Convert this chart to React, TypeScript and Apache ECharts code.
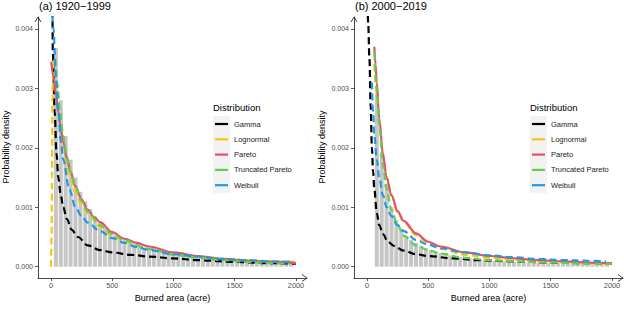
import React, { useEffect, useRef } from "react";
import * as echarts from "echarts";

// ---- data ----
const panelTitles = ["(a) 1920−1999", "(b) 2000−2019"];
const distNames = ["Gamma", "Lognormal", "Pareto", "Truncated Pareto", "Weibull"];
const distColors = ["#000000", "#F5C710", "#DF536B", "#61D04F", "#2297E6"];
const distDashed = [true, true, false, true, true];
const xTicks = [0, 500, 1000, 1500, 2000];
const yTicks = [0, 0.001, 0.002, 0.003, 0.004];

// histogram bin centres (acre) and densities
const leftBins = [40, 80, 120, 160, 200, 240, 280, 320, 360, 400, 440, 480, 520, 560, 600, 640, 680, 720, 760, 800, 840, 880, 920, 960, 1000, 1040, 1080, 1120, 1160, 1200, 1240, 1280, 1320, 1360, 1400, 1440, 1480, 1520, 1560, 1600, 1640, 1680, 1720, 1760, 1800, 1840, 1880, 1920, 1960];
const leftDensity = [0.00368, 0.0028, 0.0022, 0.0018, 0.0015, 0.00126, 0.0011, 0.00097, 0.00084, 0.00075, 0.00066, 0.00059, 0.00054, 0.00048, 0.00045, 0.00041, 0.00038, 0.00035, 0.00032, 0.0003, 0.00031, 0.00027, 0.00025, 0.00023, 0.00022, 0.0002, 0.00019, 0.00018, 0.00017, 0.00016, 0.00015, 0.00015, 0.00014, 0.00013, 0.00013, 0.00012, 0.00012, 0.00011, 0.00011, 0.0001, 0.0001, 0.0001, 0.00009, 0.00009, 0.00009, 0.00008, 0.00008, 0.00008, 0.00007];
const rightBins = [80, 120, 160, 200, 240, 280, 320, 360, 400, 440, 480, 520, 560, 600, 640, 680, 720, 760, 800, 840, 880, 920, 960, 1000, 1040, 1080, 1120, 1160, 1200, 1240, 1280, 1320, 1360, 1400, 1440, 1480, 1520, 1560, 1600, 1640, 1680, 1720, 1760, 1800, 1840, 1880, 1920, 1960];
const rightDensity = [0.0029, 0.0019, 0.0014, 0.001, 0.00078, 0.00062, 0.00052, 0.00045, 0.0004, 0.00035, 0.00031, 0.00028, 0.00025, 0.00023, 0.00021, 0.00019, 0.00017, 0.00016, 0.00015, 0.00014, 0.00013, 0.00012, 0.00012, 0.00011, 0.0001, 0.0001, 0.00009, 0.00009, 0.00008, 0.00008, 0.00008, 0.00007, 0.00007, 0.00007, 0.00006, 0.00006, 0.00006, 0.00006, 0.00005, 0.00005, 0.00005, 0.00005, 0.00005, 0.00004, 0.00004, 0.00004, 0.00004, 0.00004];

// fitted densities [acre, density]
const leftGamma = [[12, 0.0045], [15, 0.0036], [30, 0.0026], [45, 0.0019], [60, 0.0015], [80, 0.0012], [100, 0.001], [130, 0.0008], [170, 0.00062], [220, 0.0005], [300, 0.00036], [400, 0.00028], [500, 0.00024], [650, 0.0002], [800, 0.00017], [1000, 0.00014], [1200, 0.00011], [1500, 0.00008], [1800, 0.00006], [2000, 0.00005]];
const leftLognormal = [[0, 0], [5, 0.0005], [8, 0.0015], [12, 0.0028], [18, 0.0034], [25, 0.0035], [35, 0.0033], [50, 0.0029], [70, 0.0025], [100, 0.002], [150, 0.00155], [200, 0.00125], [250, 0.00105], [300, 0.0009], [400, 0.00067], [500, 0.00052], [600, 0.00042], [800, 0.0003], [1000, 0.00022], [1200, 0.00017], [1500, 0.00012], [1800, 0.00009], [2000, 0.00008]];
const leftPareto = [[2, 0.00345], [20, 0.0032], [40, 0.0029], [60, 0.0026], [80, 0.0023], [100, 0.0021], [130, 0.00182], [160, 0.0016], [200, 0.00135], [250, 0.00113], [300, 0.00096], [350, 0.00084], [400, 0.00075], [500, 0.00058], [600, 0.00047], [700, 0.0004], [800, 0.00034], [1000, 0.00024], [1200, 0.00018], [1400, 0.00013], [1600, 0.0001], [1800, 0.00008], [2000, 0.00006]];
const leftTruncPareto = [[35, 0.0035], [50, 0.0031], [75, 0.0026], [100, 0.0022], [130, 0.00185], [160, 0.0016], [200, 0.00133], [250, 0.0011], [300, 0.00093], [400, 0.0007], [500, 0.00055], [600, 0.00044], [800, 0.0003], [1000, 0.0002], [1200, 0.00015], [1400, 0.00011], [1600, 0.00008], [1800, 0.00006], [1950, 0.00005]];
const leftWeibull = [[3, 0.0046], [20, 0.004], [40, 0.0032], [60, 0.0026], [80, 0.0021], [100, 0.0018], [150, 0.0013], [200, 0.001], [250, 0.00085], [300, 0.00074], [400, 0.0006], [500, 0.00048], [600, 0.0004], [700, 0.00033], [800, 0.00028], [1000, 0.00021], [1200, 0.00017], [1400, 0.00013], [1600, 0.00011], [1800, 0.00009], [1950, 0.00008]];

const rightGamma = [[2, 0.0046], [10, 0.0041], [20, 0.0035], [30, 0.0027], [40, 0.002], [50, 0.0016], [60, 0.0013], [80, 0.0009], [100, 0.0007], [130, 0.00055], [170, 0.00042], [220, 0.00035], [300, 0.00027], [400, 0.00021], [500, 0.00018], [700, 0.00014], [900, 0.00011], [1200, 0.00009], [1500, 0.00007], [1800, 0.00006], [2000, 0.00005]];
const rightLognormal = [[60, 0.0034], [80, 0.0029], [100, 0.0024], [130, 0.0019], [160, 0.0015], [200, 0.0012], [250, 0.00092], [300, 0.00075], [400, 0.00053], [500, 0.0004], [600, 0.0003], [800, 0.0002], [1000, 0.00015], [1200, 0.00011], [1500, 0.00008], [1800, 0.00006], [2000, 0.00005]];
const rightPareto = [[60, 0.0037], [70, 0.0034], [80, 0.0031], [100, 0.0025], [130, 0.0019], [160, 0.0015], [200, 0.0012], [250, 0.00093], [300, 0.00077], [400, 0.00056], [500, 0.00042], [600, 0.00034], [800, 0.00024], [1000, 0.00018], [1200, 0.00014], [1400, 0.00011], [1600, 0.00009], [1800, 0.00007], [2000, 0.00006]];
const rightTruncPareto = [[60, 0.0036], [80, 0.003], [100, 0.0024], [130, 0.0017], [160, 0.0013], [200, 0.00095], [250, 0.0007], [300, 0.00052], [400, 0.00036], [500, 0.00028], [600, 0.00022], [800, 0.00015], [1000, 0.00011], [1200, 0.00009], [1500, 0.00007], [1800, 0.00005], [2000, 0.00005]];
const rightWeibull = [[40, 0.0031], [50, 0.0026], [60, 0.0022], [80, 0.0018], [100, 0.0015], [130, 0.0012], [160, 0.001], [200, 0.00085], [250, 0.0007], [300, 0.0006], [400, 0.00045], [500, 0.00037], [600, 0.00031], [800, 0.00024], [1000, 0.00019], [1200, 0.00016], [1400, 0.00013], [1600, 0.00011], [1800, 0.0001], [1950, 0.00009]];

const leftCurves = [leftGamma, leftLognormal, leftPareto, leftTruncPareto, leftWeibull];
const rightCurves = [rightGamma, rightLognormal, rightPareto, rightTruncPareto, rightWeibull];

const FONT = "'Liberation Sans', Arial, Helvetica, sans-serif";

export default function App() {
  const ref = useRef<HTMLDivElement>(null);
  useEffect(() => {
    if (!ref.current) return;
    const chart = echarts.init(ref.current, null, { renderer: "svg" });
    const gridLefts = [38, 354];
    const gridTop = 17;
    const gridW = 269;
    const gridH = 261;

    const xAxes = gridLefts.map((_, i) => ({
      type: "value",
      gridIndex: i,
      min: -106,
      max: 2090,
      splitLine: { show: false },
      axisLine: { show: true, onZero: false, lineStyle: { color: "#333", width: 0.9 } },
      axisTick: { show: true, length: 3, customValues: xTicks, lineStyle: { color: "#333", width: 0.8 } },
      axisLabel: {
        customValues: xTicks,
        margin: 4,
        fontSize: 7.3,
        color: "#4D4D4D",
        fontFamily: FONT,
        formatter: (v: number) => String(v),
      },
    }));
    const yAxes = gridLefts.map((_, i) => ({
      type: "value",
      gridIndex: i,
      min: -0.00019,
      max: 0.0042,
      splitLine: { show: false },
      axisLine: { show: true, onZero: false, lineStyle: { color: "#333", width: 0.9 } },
      axisTick: { show: true, length: 3, customValues: yTicks, lineStyle: { color: "#333", width: 0.8 } },
      axisLabel: {
        customValues: yTicks,
        margin: 5,
        fontSize: 7,
        color: "#4D4D4D",
        fontFamily: FONT,
        formatter: (v: number) => v.toFixed(3),
      },
    }));

    const series: any[] = [];
    const binsList = [leftBins, rightBins];
    const densList = [leftDensity, rightDensity];
    [0, 1].forEach((p) => {
      series.push({
        type: "bar",
        xAxisIndex: p,
        yAxisIndex: p,
        barWidth: 4,
        itemStyle: { color: "#C6C6C6" },
        data: binsList[p].map((b, k) => [b, densList[p][k]]),
      });
      const curves = p === 0 ? leftCurves : rightCurves;
      curves.forEach((c, k) => {
        series.push({
          type: "line",
          name: distNames[k],
          xAxisIndex: p,
          yAxisIndex: p,
          showSymbol: false,
          symbol: "none",
          smooth: 0.35,
          smoothMonotone: "x",
          clip: true,
          lineStyle: {
            color: distColors[k],
            width: 2.2,
            type: distDashed[k] ? [7, 4] : "solid",
            cap: "butt",
          },
          data: c,
        });
      });
    });

    const graphics: any[] = [];
    gridLefts.forEach((gl, p) => {
      const axRight = gl + gridW;
      const axBottom = gridTop + gridH;
      graphics.push({
        type: "polyline",
        shape: { points: [[gl - 3, gridTop + 5], [gl, gridTop], [gl + 3, gridTop + 5]] },
        style: { stroke: "#333", lineWidth: 0.9, fill: "none" },
      });
      graphics.push({
        type: "polyline",
        shape: { points: [[axRight - 5, axBottom - 3.5], [axRight, axBottom], [axRight - 5, axBottom + 3.5]] },
        style: { stroke: "#333", lineWidth: 0.9, fill: "none" },
      });
      graphics.push({
        type: "text",
        x: gl + 1,
        y: 6,
        style: { text: panelTitles[p], fontSize: 11, fontFamily: FONT, fill: "#000", verticalAlign: "middle", align: "left" },
      });
      graphics.push({
        type: "text",
        x: gl + gridW / 2,
        y: 298,
        style: { text: "Burned area (acre)", fontSize: 9, fontFamily: FONT, fill: "#000", align: "center", verticalAlign: "middle" },
      });
      graphics.push({
        type: "text",
        x: gl - 32,
        y: 147,
        rotation: Math.PI / 2,
        style: { text: "Probability density", fontSize: 9, fontFamily: FONT, fill: "#000", align: "center", verticalAlign: "middle" },
      });
      const lx = p === 0 ? 213 : 530;
      graphics.push({
        type: "text",
        x: lx,
        y: 107,
        style: { text: "Distribution", fontSize: 9.5, fontFamily: FONT, fill: "#000", align: "left", verticalAlign: "middle" },
      });
      graphics.push({
        type: "rect",
        shape: { x: lx, y: 116, width: 17, height: 77 },
        style: { fill: "#F2F2F2" },
      });
      distNames.forEach((nm, k) => {
        const yy = 124 + k * 15.3;
        graphics.push({
          type: "line",
          shape: { x1: lx + 2, y1: yy, x2: lx + 15, y2: yy },
          style: { stroke: distColors[k], lineWidth: 2.2 },
        });
        graphics.push({
          type: "text",
          x: lx + 21,
          y: yy,
          style: { text: nm, fontSize: 7.5, fontFamily: FONT, fill: "#1A1A1A", align: "left", verticalAlign: "middle" },
        });
      });
    });

    chart.setOption({
      animation: false,
      backgroundColor: "#FFFFFF",
      textStyle: { fontFamily: FONT },
      grid: gridLefts.map((gl) => ({ left: gl, top: gridTop, width: gridW, height: gridH, containLabel: false })),
      xAxis: xAxes,
      yAxis: yAxes,
      series,
      graphic: graphics,
    });
    return () => chart.dispose();
  }, []);
  return <div ref={ref} style={{ width: 624, height: 310, position: "absolute", left: 0, top: 0 }} />;
}
